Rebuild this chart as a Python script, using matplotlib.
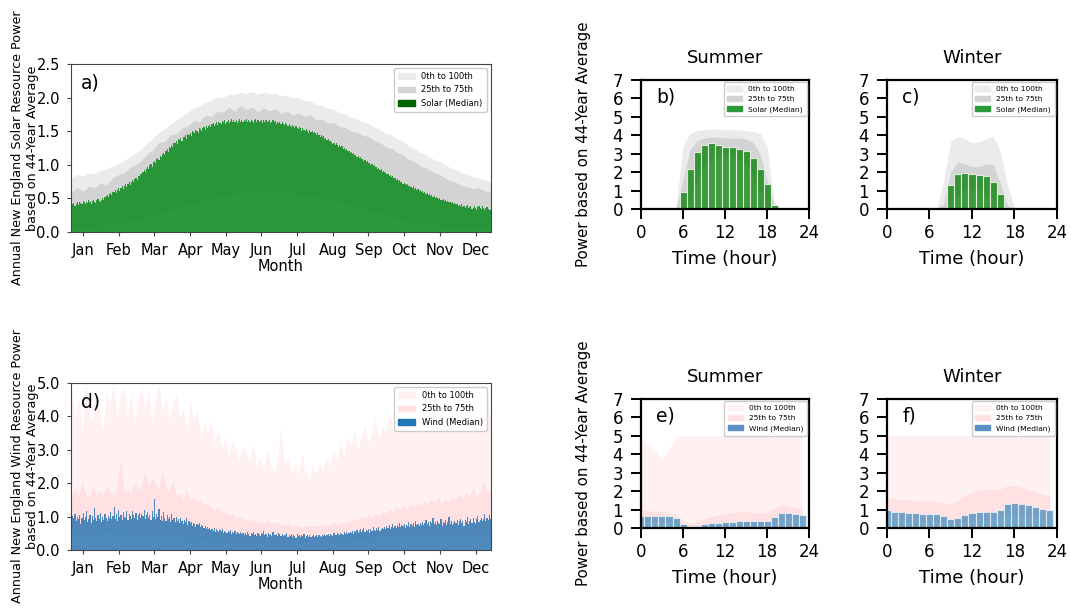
import numpy as np
import matplotlib
matplotlib.use("Agg")
import matplotlib.pyplot as plt
from matplotlib.patches import Patch

# ---- daily medians (one value per day, Jan..Dec) ----
solar_med = [
    # Jan
    0.34,0.41,0.43,0.39,0.42,0.44,0.40,0.45,0.43,0.41,0.46,0.44,0.42,0.45,0.43,0.47,0.44,0.41,0.46,0.48,0.45,0.43,0.47,0.49,0.46,0.44,0.48,0.50,0.47,0.52,0.53,
    # Feb
    0.55,0.52,0.57,0.58,0.55,0.60,0.59,0.62,0.58,0.63,0.65,0.61,0.66,0.68,0.64,0.69,0.71,0.67,0.72,0.74,0.70,0.75,0.77,0.74,0.79,0.81,0.78,0.83,
    # Mar
    0.84,0.87,0.86,0.90,0.92,0.89,0.94,0.96,0.93,0.99,1.01,0.97,1.04,1.06,1.02,1.08,1.10,1.07,1.13,1.12,1.16,1.18,1.15,1.21,1.23,1.19,1.26,1.25,1.29,1.27,1.32,
    # Apr
    1.33,1.36,1.31,1.38,1.37,1.40,1.35,1.42,1.41,1.44,1.39,1.46,1.45,1.48,1.43,1.50,1.49,1.47,1.52,1.51,1.48,1.54,1.53,1.50,1.55,1.56,1.52,1.58,1.55,1.57,
    # May
    1.59,1.56,1.60,1.62,1.58,1.61,1.63,1.59,1.64,1.62,1.60,1.65,1.63,1.66,1.61,1.64,1.67,1.62,1.65,1.68,1.63,1.66,1.64,1.67,1.62,1.65,1.68,1.64,1.66,1.63,1.67,
    # Jun
    1.65,1.68,1.63,1.66,1.64,1.67,1.65,1.62,1.66,1.68,1.64,1.67,1.63,1.65,1.66,1.62,1.67,1.64,1.66,1.63,1.65,1.67,1.62,1.64,1.66,1.63,1.65,1.61,1.64,1.62,
    # Jul
    1.63,1.60,1.64,1.61,1.59,1.62,1.60,1.57,1.61,1.58,1.56,1.59,1.57,1.54,1.58,1.55,1.53,1.56,1.54,1.51,1.55,1.52,1.50,1.53,1.51,1.48,1.52,1.49,1.50,1.47,1.49,
    # Aug
    1.47,1.45,1.48,1.44,1.42,1.45,1.41,1.43,1.39,1.40,1.37,1.38,1.35,1.36,1.34,1.31,1.33,1.30,1.32,1.29,1.27,1.30,1.26,1.28,1.24,1.25,1.22,1.23,1.20,1.21,1.18,
    # Sep
    1.19,1.16,1.17,1.14,1.15,1.12,1.13,1.10,1.11,1.08,1.09,1.06,1.07,1.04,1.05,1.02,1.03,1.00,1.01,0.98,0.99,0.96,0.97,0.94,0.95,0.92,0.93,0.90,0.91,0.89,
    # Oct
    0.88,0.86,0.87,0.84,0.85,0.82,0.83,0.80,0.81,0.78,0.79,0.76,0.77,0.74,0.75,0.72,0.73,0.71,0.70,0.72,0.68,0.69,0.67,0.66,0.68,0.64,0.65,0.63,0.64,0.61,0.62,
    # Nov
    0.60,0.61,0.58,0.59,0.57,0.58,0.55,0.56,0.54,0.55,0.52,0.53,0.51,0.52,0.50,0.49,0.51,0.48,0.47,0.49,0.46,0.47,0.45,0.46,0.44,0.45,0.43,0.44,0.42,0.43,
    # Dec
    0.41,0.42,0.39,0.40,0.38,0.41,0.37,0.39,0.36,0.38,0.40,0.35,0.37,0.39,0.34,0.36,0.38,0.35,0.33,0.37,0.39,0.36,0.34,0.38,0.36,0.33,0.35,0.37,0.34,0.32,0.33,
]

wind_med = [
    0.82,1.02,0.95,1.08,0.88,1.00,0.93,1.05,0.78,0.97,1.10,0.90,0.99,1.18,0.85,0.94,1.06,0.80,1.02,0.91,1.25,0.96,0.87,1.04,0.92,1.12,0.83,0.98,0.90,1.07,0.95,
    0.88,1.03,0.97,1.15,0.92,1.01,1.29,0.94,1.08,0.86,1.21,0.99,1.05,0.91,1.13,1.00,0.95,1.18,0.89,1.07,1.02,0.93,1.16,1.04,0.97,1.10,0.90,1.06,
    1.12,0.95,1.08,1.01,1.20,0.92,1.04,1.14,0.97,1.06,0.89,1.18,1.00,1.52,0.94,1.09,0.98,1.22,0.91,1.03,0.86,1.13,0.95,0.88,1.05,0.92,0.99,0.84,1.08,0.90,0.96,
    0.85,1.00,0.88,0.93,0.80,0.97,0.86,0.78,0.91,0.83,0.95,0.76,0.87,0.80,0.84,0.73,0.82,0.77,0.70,0.79,0.74,0.81,0.68,0.75,0.71,0.66,0.73,0.64,0.69,0.62,
    0.67,0.60,0.64,0.58,0.66,0.55,0.62,0.57,0.53,0.60,0.56,0.63,0.52,0.58,0.54,0.50,0.57,0.53,0.59,0.49,0.55,0.51,0.56,0.48,0.54,0.50,0.47,0.55,0.49,0.52,0.46,
    0.50,0.45,0.53,0.48,0.42,0.51,0.47,0.55,0.44,0.49,0.41,0.52,0.46,0.43,0.50,0.48,0.56,0.44,0.47,0.40,0.51,0.45,0.49,0.42,0.53,0.46,0.44,0.48,0.41,0.50,
    0.47,0.43,0.49,0.41,0.46,0.44,0.50,0.39,0.45,0.42,0.48,0.40,0.46,0.43,0.37,0.47,0.42,0.44,0.38,0.45,0.41,0.48,0.36,0.43,0.46,0.40,0.44,0.39,0.42,0.45,0.38,
    0.41,0.44,0.39,0.46,0.42,0.40,0.45,0.43,0.48,0.41,0.44,0.47,0.42,0.49,0.45,0.43,0.50,0.46,0.44,0.51,0.47,0.45,0.52,0.48,0.46,0.53,0.49,0.55,0.47,0.51,0.54,
    0.50,0.56,0.48,0.58,0.53,0.60,0.51,0.57,0.62,0.54,0.59,0.66,0.55,0.61,0.57,0.64,0.52,0.63,0.58,0.68,0.60,0.56,0.65,0.61,0.70,0.58,0.63,0.67,0.62,0.69,
    0.64,0.71,0.66,0.74,0.62,0.69,0.78,0.67,0.73,0.65,0.76,0.70,0.82,0.68,0.74,0.71,0.79,0.66,0.75,0.72,0.84,0.69,0.77,0.73,0.80,0.70,0.86,0.75,0.78,0.72,0.81,
    0.76,0.85,0.74,0.82,0.90,0.78,0.84,0.72,0.88,0.80,0.95,0.77,0.83,0.75,0.86,0.81,0.79,0.92,0.73,0.85,0.80,0.89,0.76,0.83,0.98,0.78,0.87,0.74,0.82,0.88,
    0.80,0.90,0.76,0.86,0.94,0.82,0.88,0.72,0.91,0.84,1.00,0.79,0.87,0.93,0.81,0.96,0.85,0.78,0.92,1.02,0.83,0.89,0.97,0.86,0.94,1.08,0.88,0.95,0.90,1.05,0.93,
]

# ---- daily percentile envelopes (sampled evenly over the year) ----
solar_q75 = [0.60,0.66,0.61,0.68,0.66,0.73,0.70,0.80,0.85,0.88,0.96,1.00,1.06,1.16,1.22,1.33,1.35,1.45,1.46,1.55,
             1.58,1.66,1.64,1.74,1.72,1.80,1.78,1.86,1.80,1.88,1.82,1.86,1.79,1.85,1.80,1.84,1.76,1.80,1.74,1.77,
             1.72,1.74,1.67,1.68,1.62,1.63,1.57,1.56,1.50,1.49,1.44,1.42,1.36,1.33,1.27,1.24,1.18,1.15,1.08,1.04,
             0.98,0.95,0.90,0.86,0.82,0.76,0.74,0.69,0.68,0.64,0.66,0.61,0.60]
solar_max = [0.80,0.86,0.83,0.88,0.87,0.92,0.93,0.98,1.02,1.06,1.12,1.17,1.24,1.32,1.40,1.48,1.53,1.61,1.66,1.73,
             1.78,1.85,1.88,1.93,1.96,2.01,2.00,2.05,2.04,2.08,2.06,2.09,2.05,2.08,2.06,2.07,2.02,2.04,1.99,2.00,
             1.96,1.95,1.90,1.89,1.84,1.83,1.78,1.76,1.71,1.69,1.64,1.62,1.56,1.53,1.47,1.44,1.38,1.35,1.28,1.24,
             1.18,1.14,1.09,1.06,1.01,0.96,0.93,0.88,0.86,0.82,0.81,0.77,0.75]
solar_q25 = [0.05,0.10,0.20,0.35,0.50,0.60,0.60,0.52,0.40,0.25,0.12,0.06,0.05]

wind_q75 = [1.55,1.85,1.62,2.02,1.70,1.58,1.90,1.66,1.78,1.60,1.95,
            1.72,1.64,1.88,2.70,1.75,1.82,1.68,2.05,1.79,
            1.90,2.35,1.85,2.15,1.96,1.80,2.40,1.88,1.75,2.10,
            1.62,1.70,1.52,1.80,1.45,1.58,1.40,1.50,1.35,1.44,
            1.25,1.18,1.30,1.10,1.15,1.05,1.12,0.98,1.04,0.95,
            0.92,0.85,0.95,0.82,0.88,0.80,0.90,0.78,0.84,0.80,
            0.78,0.74,0.82,0.70,0.76,0.72,0.68,0.75,0.71,0.73,
            0.70,0.76,0.72,0.79,0.74,0.81,0.77,0.84,0.80,0.88,
            0.86,0.94,0.90,1.02,0.95,1.08,0.98,1.12,1.05,1.15,
            1.10,1.22,1.15,1.30,1.20,1.35,1.25,1.42,1.30,1.38,
            1.35,1.48,1.40,1.55,1.42,1.60,1.38,1.52,1.45,1.62,
            1.50,1.68,1.55,1.72,1.60,1.85,1.58,1.75,2.10,1.70,1.80]
wind_max = [4.8,3.9,4.6,3.5,5.0,4.2,3.8,4.9,4.1,3.6,4.7,
            4.4,5.0,3.9,4.6,4.9,4.0,4.7,3.7,4.5,
            4.9,4.2,4.8,3.8,4.5,5.0,4.1,4.6,3.9,4.4,
            4.7,4.0,4.3,3.6,4.5,3.9,4.2,3.4,3.8,3.5,
            3.9,3.2,3.6,3.0,3.4,2.8,3.3,3.0,2.7,3.1,
            2.9,2.6,3.2,2.5,2.8,2.4,3.0,2.6,2.3,2.7,
            3.7,2.5,2.8,2.3,2.6,2.2,2.9,2.4,2.1,2.5,
            2.3,2.6,2.4,2.8,2.5,3.0,2.7,3.2,2.8,3.4,
            3.1,3.6,3.0,3.4,3.8,3.2,3.5,4.0,3.3,3.7,
            3.5,4.1,3.6,3.9,4.3,3.7,4.0,3.4,4.2,3.8,
            4.0,3.6,4.4,3.8,4.2,3.5,4.5,3.9,4.1,3.7,
            4.3,3.8,4.6,4.0,3.7,4.4,3.9,4.2,3.6,4.5,4.1]
wind_q25 = [0.50,0.55,0.50,0.40,0.30,0.25,0.22,0.25,0.30,0.40,0.45,0.50,0.50]

months = ["Jan", "Feb", "Mar", "Apr", "May", "Jun", "Jul", "Aug", "Sep", "Oct", "Nov", "Dec"]

# ---- hourly profiles (hour 0..23) ----
hours = np.arange(24)
sum_solar_med = [0,0,0,0,0,0,0.90,2.18,3.09,3.48,3.57,3.48,3.39,3.34,3.27,3.16,2.76,2.17,1.37,0.23,0,0,0,0]
sum_solar_q25 = [0,0,0,0,0,0,0,0.5,1.6,2.3,2.7,2.85,2.9,2.85,2.7,2.4,1.8,1.0,0.2,0,0,0,0,0]
sum_solar_q75 = [0,0,0,0,0,0.05,1.6,3.2,3.7,3.85,3.9,3.9,3.85,3.85,3.85,3.8,3.6,3.0,1.6,0.2,0,0,0,0]
sum_solar_max = [0,0,0,0,0,0.1,3.4,4.1,4.25,4.3,4.35,4.35,4.3,4.3,4.3,4.25,4.2,4.1,3.4,0.4,0,0,0,0]

win_solar_med = [0,0,0,0,0,0,0,0,0,1.28,1.91,1.97,1.88,1.84,1.77,1.44,0.81,0,0,0,0,0,0,0]
win_solar_q25 = [0,0,0,0,0,0,0,0,0,0.3,0.8,1.05,1.1,1.05,0.85,0.5,0.1,0,0,0,0,0,0,0]
win_solar_q75 = [0,0,0,0,0,0,0,0,0.3,2.0,2.55,2.45,2.3,2.3,2.45,2.4,1.4,0.2,0,0,0,0,0,0]
win_solar_max = [0,0,0,0,0,0,0,0.05,1.5,3.7,3.95,3.8,3.6,3.65,3.8,3.95,3.1,1.3,0.1,0,0,0,0,0]

sum_wind_med = [0.65,0.65,0.65,0.65,0.63,0.52,0.22,0.07,0.13,0.20,0.25,0.25,0.32,0.34,0.40,0.40,0.40,0.36,0.40,0.60,0.83,0.81,0.74,0.69]
sum_wind_q25 = [0.35,0.35,0.3,0.3,0.3,0.25,0.1,0.02,0.05,0.1,0.1,0.12,0.15,0.15,0.18,0.18,0.18,0.15,0.18,0.3,0.45,0.45,0.4,0.38]
sum_wind_q75 = [1.00,0.95,0.90,0.90,0.85,0.75,0.40,0.25,0.35,0.50,0.60,0.70,0.80,0.85,0.90,0.90,0.85,0.80,0.85,1.10,1.30,1.20,1.10,1.00]
sum_wind_max = [4.85,4.6,4.2,3.75,4.3,4.95,5,5,5,5,5,5,5,5,5,5,5,5,5,5,5,5,5,5]

win_wind_med = [0.96,0.87,0.85,0.83,0.80,0.78,0.78,0.78,0.63,0.49,0.55,0.69,0.79,0.85,0.87,0.88,0.97,1.30,1.37,1.32,1.23,1.12,1.05,0.97]
win_wind_q25 = [0.5,0.45,0.45,0.42,0.4,0.4,0.4,0.4,0.3,0.25,0.28,0.35,0.4,0.45,0.45,0.45,0.5,0.7,0.75,0.7,0.65,0.6,0.55,0.5]
win_wind_q75 = [1.65,1.60,1.55,1.52,1.50,1.48,1.45,1.42,1.38,1.30,1.50,1.75,1.95,2.05,2.10,2.10,2.12,2.30,2.30,2.20,2.05,1.95,1.85,1.75]
win_wind_max = [5]*24

SOL_OUT, SOL_IN = "#ebebeb", "#d3d3d3"
WND_OUT, WND_IN = "#fff1f1", "#ffe1e4"

fig = plt.figure(figsize=(10.71, 6.1), dpi=100)


def daily_panel(rect, med, q25, q75, vmax, outc, inc, barc, alpha, legc, name, ylim, yticks, yfmt, letter, ylabel):
    ax = fig.add_axes(rect)
    days = np.arange(len(med))
    x75 = np.linspace(0, 364, len(q75))
    xmx = np.linspace(0, 364, len(vmax))
    x25 = np.linspace(0, 364, len(q25))
    ax.fill_between(xmx, 0, vmax, color=outc, lw=0)
    ax.fill_between(x75, np.interp(x75, x25, q25), q75, color=inc, lw=0)
    ax.bar(days, med, width=1.0, color=barc, alpha=alpha, lw=0)
    ax.set_xlim(-0.5, 364.5)
    ax.set_ylim(*ylim)
    ax.set_yticks(yticks)
    ax.set_yticklabels([yfmt % v for v in yticks])
    ax.set_xticks([10 + 31 * k for k in range(12)])
    ax.set_xticklabels(months)
    ax.tick_params(labelsize=10.5, length=3, pad=5, color="#444444")
    for s in ax.spines.values():
        s.set_color("#444444")
        s.set_linewidth(0.8)
    ax.set_xlabel("Month", fontsize=10.5, labelpad=1)
    ax.set_ylabel(ylabel, fontsize=9.2, linespacing=1.15)
    ax.yaxis.set_label_coords(-0.077, 0.5)
    ax.text(0.024, 0.885, letter, transform=ax.transAxes, fontsize=13.5, va="center")
    handles = [Patch(color=outc, label="0th to 100th"), Patch(color=inc, label="25th to 75th"),
               Patch(color=legc, label=name)]
    ax.legend(handles=handles, loc="upper right", fontsize=6, framealpha=1, borderpad=0.5)
    return ax


daily_panel([0.0663, 0.6197, 0.3922, 0.2754], solar_med, solar_q25, solar_q75, solar_max,
            SOL_OUT, SOL_IN, "#0a8a1e", 0.85, "darkgreen", "Solar (Median)",
            (0, 2.5), [0, 0.5, 1.0, 1.5, 2.0, 2.5], "%.1f", "a)",
            "Annual New England Solar Resource Power\nbased on 44-Year Average")
daily_panel([0.0663, 0.0984, 0.3922, 0.2738], wind_med, wind_q25, wind_q75, wind_max,
            WND_OUT, WND_IN, "#1f6fb0", 0.8, "#1f77b4", "Wind (Median)",
            (0, 5), [0, 1, 2, 3, 4, 5], "%.1f", "d)",
            "Annual New England Wind Resource Power\nbased on 44-Year Average")


def hourly_panel(rect, med, q25, q75, vmax, outc, inc, barc, alpha, legc, name, title, letter, ylabel=None):
    ax = fig.add_axes(rect)
    ax.fill_between(hours, 0, vmax, color=outc, lw=0)
    ax.fill_between(hours, q25, q75, color=inc, lw=0)
    ax.bar(hours, med, width=1.0, color=barc, alpha=alpha, edgecolor="white", lw=0.8)
    ax.set_xlim(0, 24)
    ax.set_ylim(0, 7)
    ax.set_xticks([0, 6, 12, 18, 24])
    ax.set_yticks(range(8))
    ax.tick_params(labelsize=12, length=7, width=1.4)
    ax.tick_params(axis="y", pad=6)
    for s in ax.spines.values():
        s.set_linewidth(1.6)
    ax.set_title(title, fontsize=13, pad=12)
    ax.set_xlabel("Time (hour)", fontsize=13, labelpad=6)
    if ylabel:
        ax.set_ylabel(ylabel, fontsize=10.8)
        ax.yaxis.set_label_coords(-0.30, 0.5)
    ax.text(0.09, 0.87, letter, transform=ax.transAxes, fontsize=13.5, va="center")
    handles = [Patch(color=outc, label="0th to 100th"), Patch(color=inc, label="25th to 75th"),
               Patch(color=legc, label=name)]
    ax.legend(handles=handles, loc="upper right", fontsize=5.4, framealpha=1, borderpad=0.5,
              borderaxespad=0.3)
    return ax


ylab = "Power based on 44-Year Average"
hourly_panel([0.5985, 0.6574, 0.1569, 0.2115], sum_solar_med, sum_solar_q25, sum_solar_q75, sum_solar_max,
             SOL_OUT, SOL_IN, "green", 0.75, "#2a9a3a", "Solar (Median)", "Summer", "b)", ylab)
hourly_panel([0.8282, 0.6574, 0.1587, 0.2115], win_solar_med, win_solar_q25, win_solar_q75, win_solar_max,
             SOL_OUT, SOL_IN, "green", 0.75, "#2a9a3a", "Solar (Median)", "Winter", "c)")
hourly_panel([0.5985, 0.1344, 0.1569, 0.2115], sum_wind_med, sum_wind_q25, sum_wind_q75, sum_wind_max,
             WND_OUT, WND_IN, "#1f77b4", 0.62, "#5b8fc6", "Wind (Median)", "Summer", "e)", ylab)
hourly_panel([0.8282, 0.1344, 0.1587, 0.2115], win_wind_med, win_wind_q25, win_wind_q75, win_wind_max,
             WND_OUT, WND_IN, "#1f77b4", 0.62, "#5b8fc6", "Wind (Median)", "Winter", "f)")

fig.savefig("out.png", dpi=100)
